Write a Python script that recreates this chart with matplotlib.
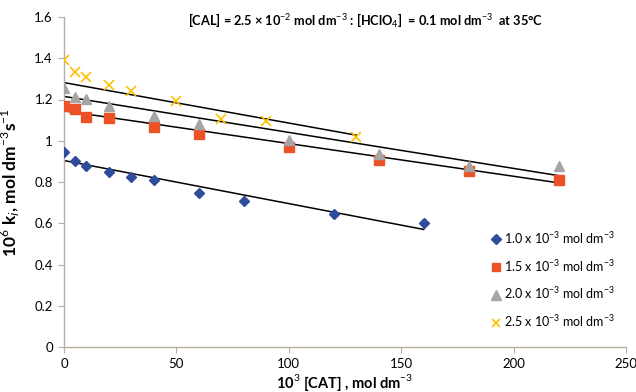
import numpy as np
import matplotlib
matplotlib.use("Agg")
import matplotlib.pyplot as plt

plt.rcParams['font.family'] = ['Lato', 'DejaVu Sans']
plt.rcParams['mathtext.fontset'] = 'custom'
plt.rcParams['mathtext.rm'] = 'Lato'
plt.rcParams['mathtext.bf'] = 'Lato:bold'

x1 = [0, 5, 10, 20, 30, 40, 60, 80, 120, 160]
y1 = [0.946, 0.902, 0.880, 0.850, 0.825, 0.812, 0.748, 0.708, 0.645, 0.602]
x2 = [0, 5, 10, 20, 40, 60, 100, 140, 180, 220]
y2 = [1.168, 1.155, 1.115, 1.110, 1.065, 1.033, 0.968, 0.905, 0.855, 0.808]
x3 = [0, 5, 10, 20, 40, 60, 100, 140, 180, 220]
y3 = [1.255, 1.210, 1.203, 1.170, 1.120, 1.080, 1.005, 0.935, 0.880, 0.880]
x4 = [0, 5, 10, 20, 30, 50, 70, 90, 130]
y4 = [1.393, 1.335, 1.310, 1.270, 1.240, 1.195, 1.105, 1.095, 1.020]
# trend lines: value at first x and at last x of each series
trend_start = [0.904, 1.145, 1.215, 1.282]
trend_end = [0.570, 0.796, 0.831, 1.027]
labels = ["1.0 x 10$^{-3}$ mol dm$^{-3}$", "1.5 x 10$^{-3}$ mol dm$^{-3}$",
          "2.0 x 10$^{-3}$ mol dm$^{-3}$", "2.5 x 10$^{-3}$ mol dm$^{-3}$"]
xticks = [0, 50, 100, 150, 200, 250]
yticks = [0, 0.2, 0.4, 0.6, 0.8, 1.0, 1.2, 1.4, 1.6]
ytick_labels = ["0", "0.2", "0.4", "0.6", "0.8", "1", "1.2", "1.4", "1.6"]

fig = plt.figure(figsize=(6.36, 3.92), dpi=100)
ax = fig.add_axes([64/636, 1-347/392, (626-64)/636, (347-17)/392])

series = [
    (x1, y1, 'D', '#2f4b9c', 5.5, None),
    (x2, y2, 's', '#ec5227', 7, None),
    (x3, y3, '^', '#a5a5a5', 7.5, None),
    (x4, y4, 'x', '#ffc000', 7, 1.2),
]
for (xs, *_), ys0, ys1 in zip(series, trend_start, trend_end):
    ax.plot([min(xs), max(xs)], [ys0, ys1], color='black', lw=1.1, zorder=2)

for (xs, ys, mk, col, ms, mew), lab in zip(series, labels):
    kw = dict(marker=mk, linestyle='none', markersize=ms, label=lab, zorder=3)
    if mk == 'x':
        kw.update(color=col, markeredgewidth=mew)
    else:
        kw.update(color=col, markeredgecolor=col)
    ax.plot(xs, ys, **kw)

ax.set_xlim(0, 250)
ax.set_ylim(0, 1.6)
ax.set_xticks(xticks)
ax.set_yticks(yticks)
ax.set_yticklabels(ytick_labels)
ax.tick_params(axis='both', labelsize=9.5, color='#b8aea2', length=4, direction='out', pad=4)
for s in ['top', 'right']:
    ax.spines[s].set_visible(False)
for s in ['left', 'bottom']:
    ax.spines[s].set_color('#b8aea2')
    ax.spines[s].set_linewidth(1.0)

ax.set_xlabel("10$^{3}$ [CAT] , mol dm$^{-3}$", fontsize=10.5, fontweight='bold')
ax.xaxis.set_label_coords(0.5, (347-372)/330)
ax.set_ylabel("10$^{6}$ k$_{i}$, mol dm$^{-3}$s$^{-1}$", fontsize=12.5, fontweight='bold')
ax.yaxis.set_label_coords((22-64)/562, 0.5)

ax.text((365-64)/562, (347-21)/330, "[CAL] = 2.5 × 10$^{-2}$ mol dm$^{-3}$ : [HClO$_{4}$]  = 0.1 mol dm$^{-3}$  at 35°C",
        transform=ax.transAxes, ha='center', va='center', fontsize=9.2, fontweight='bold')

leg = ax.legend(loc='lower right', bbox_to_anchor=(1.0, 0.02), frameon=False, fontsize=9,
                handlelength=0.6, handletextpad=0.3, labelspacing=0.95, markerscale=0.9)

fig.savefig("out.png", dpi=100)
